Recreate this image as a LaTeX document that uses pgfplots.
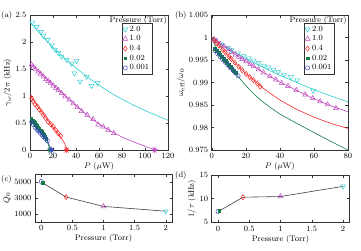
\documentclass[border=0pt]{standalone}
\usepackage{pgfplots}
\pgfplotsset{compat=1.18}
\usetikzlibrary{plotmarks}
\definecolor{cy}{RGB}{45,205,205}
\definecolor{mg}{RGB}{190,70,190}
\definecolor{rd}{RGB}{245,40,40}
\definecolor{gr}{RGB}{20,125,70}
\definecolor{bl}{RGB}{60,70,190}
\pgfplotsset{
  base/.style={scale only axis, anchor=north west, clip=false,
    tick align=inside, major tick length=2.5pt,
    axis line style={black!80, line width=0.5pt},
    every tick/.style={black!80, line width=0.4pt},
    font=\fontsize{8}{9.6}\selectfont,
    scaled ticks=false,
    xlabel style={yshift=3pt}, ylabel style={yshift=-3pt},
    legend cell align=left,
  },
  pcy/.style={only marks, mark=triangle, mark size=2.8pt, mark options={rotate=180, cy, line width=0.5pt, fill=none}},
  pmg/.style={only marks, mark=triangle, mark size=2.8pt, mark options={mg, line width=0.5pt, fill=none}},
  prd/.style={only marks, mark=diamond, mark size=2.6pt, mark options={rd, line width=0.5pt, fill=none}},
  pgr/.style={only marks, mark=square*, mark size=1.4pt, mark options={gr, fill=gr}},
  pbl/.style={only marks, mark=o, mark size=2.1pt, mark options={bl, line width=0.5pt}},
  pst/.style={only marks, mark=10-pointed star, mark size=3.2pt, mark options={#1, fill=white, line width=0.5pt}},
  ln/.style={no marks, #1, line width=0.6pt},
}
\begin{document}
\begin{tikzpicture}
\path[use as bounding box] (0pt,0pt) rectangle (361pt,-250pt);
% ---------------- (a)
\begin{axis}[base, at={(30pt,-15pt)}, width=138pt, height=135pt,
  xmin=0, xmax=120, ymin=0, ymax=2.5,
  xtick={0,20,40,60,80,100,120},
  ytick={0,0.5,1,1.5,2,2.5}, yticklabels={0,0.5,1,1.5,2,2.5},
  xlabel={$P$ ($\mu$W)}, ylabel={$\gamma_\omega/2\pi$ (kHz)},
  legend style={at={(rel axis cs:0.664,0.943)}, anchor=north west, draw=black!80,
    font=\fontsize{8}{8}\selectfont, inner sep=1pt, row sep=-1.2pt}]
\addplot[ln=cy, forget plot] coordinates {(0,2.37)(10,2.12)(20,1.90)(30,1.70)(40,1.52)(50,1.35)(60,1.20)(70,1.06)(80,0.94)(90,0.83)(100,0.73)(110,0.64)(120,0.55)};
\addplot[ln=mg, forget plot] coordinates {(0,1.60)(10,1.40)(20,1.20)(30,1.01)(40,0.82)(50,0.64)(60,0.48)(70,0.35)(80,0.24)(90,0.15)(100,0.07)(109,0.0)};
\addplot[ln=rd, forget plot] coordinates {(0,1.01)(5,0.86)(10,0.71)(15,0.565)(20,0.425)(25,0.29)(28,0.20)(30,0.13)(32,0.0)};
\addplot[ln=bl, forget plot] coordinates {(0,0.56)(4,0.44)(8,0.33)(12,0.235)(15,0.16)(18.8,0)};
\addplot[ln=gr, forget plot] coordinates {(0,0.60)(4,0.50)(8,0.39)(12,0.28)(15,0.17)(17.3,0)};
\addplot[pcy] coordinates {(2.0,2.36)(5.8,2.28)(9.6,2.19)(11.6,2.12)(15.4,2.04)(18.8,1.94)(21.7,1.86)(24.6,1.80)(27.5,1.73)(31.9,1.67)(36.2,1.60)(38.6,1.42)(40.6,1.65)(43.5,1.27)(49.3,1.36)(53.6,1.19)(58.8,1.24)};
\addlegendentry{2.0}
\addplot[pmg] coordinates {(1.4,1.58)(2.9,1.54)(4.9,1.49)(7.2,1.45)(9.3,1.41)(11.6,1.36)(13.9,1.31)(15.9,1.28)(17.9,1.24)(20.2,1.19)(22.6,1.15)(24.6,1.11)(27.5,1.05)(30.4,0.99)(34.1,0.93)(37.6,0.86)(41.1,0.79)(44.8,0.72)(49.7,0.65)(54.9,0.57)(59.3,0.47)(63.6,0.43)(68,0.37)(72.9,0.31)};
\addlegendentry{1.0}
\addplot[prd] coordinates {(1.4,0.96)(2.9,0.90)(4.3,0.85)(6.4,0.80)(8.1,0.75)(10.1,0.70)(11.6,0.65)(13.6,0.59)(15.9,0.52)(17.9,0.48)(20.2,0.43)(22.3,0.37)(24.5,0.31)(26.8,0.26)};
\addlegendentry{0.4}
\addplot[pgr] coordinates {(1,0.575)(2,0.55)(3,0.525)(4,0.50)(5,0.475)(6,0.45)(7,0.42)(8,0.39)(9,0.365)(10,0.335)(11,0.31)(12,0.28)(13,0.25)(14,0.215)};
\addlegendentry{0.02}
\addplot[pbl] coordinates {(1.5,0.52)(3,0.47)(4.5,0.42)(6,0.38)(7.5,0.35)(9,0.31)(10.5,0.28)(12,0.24)(13.5,0.21)(15,0.17)};
\addlegendentry{0.001}
\addplot[pst=mg, forget plot] coordinates {(108.4,0)};
\addplot[pst=rd, forget plot] coordinates {(31.8,0)};
\addplot[pst=gr, forget plot] coordinates {(17.3,0)};
\addplot[pst=bl, forget plot] coordinates {(18.8,0)};
\node[anchor=north east, inner sep=1pt, font=\fontsize{8}{9.6}\selectfont] at (rel axis cs:1,1) {Pressure (Torr)};
\end{axis}
% ---------------- (b)
\begin{axis}[base, at={(211.7pt,-15pt)}, width=136.3pt, height=135pt,
  xmin=0, xmax=80, ymin=0.975, ymax=1.005,
  xtick={0,20,40,60,80},
  ytick={0.975,0.98,0.985,0.99,0.995,1,1.005}, yticklabels={0.975,0.98,0.985,0.99,0.995,1,1.005},
  xlabel={$P$ ($\mu$W)}, ylabel={$\omega_{\mathrm{eff}}/\omega_0$},
  legend style={at={(rel axis cs:0.677,0.943)}, anchor=north west, draw=black!80,
    font=\fontsize{8}{8}\selectfont, inner sep=1pt, row sep=-1.2pt}]
\addplot[ln=cy, forget plot] coordinates {(0,1.0)(10,0.9975)(20,0.9953)(30,0.9934)(40,0.9916)(50,0.9900)(60,0.9884)(70,0.9870)(80,0.9857)};
\addplot[ln=mg, forget plot] coordinates {(0,1.0)(10,0.9972)(20,0.9947)(30,0.9923)(40,0.9901)(50,0.9882)(60,0.9864)(70,0.9848)(80,0.9835)};
\addplot[ln=rd, forget plot] coordinates {(0,1.0)(10,0.9958)(20,0.9920)(30,0.9888)(40,0.9861)(50,0.9840)(60,0.9823)(70,0.9809)(80,0.9798)};
\addplot[ln=gr, forget plot] coordinates {(0,1.0)(1,0.9990)(2,0.9982)(4,0.9970)(7,0.9955)(10,0.9940)(14,0.9920)(18,0.9902)(22,0.9885)(26,0.9870)(30,0.9857)(35,0.9843)(40,0.9830)(50,0.9809)(60,0.9789)(70,0.9769)(80,0.9750)};
\addplot[pcy] coordinates {(2.0,0.9994)(5.8,0.9985)(9.6,0.9977)(11.6,0.9972)(15.4,0.9965)(18.8,0.9959)(21.7,0.9954)(24.6,0.9949)(27.5,0.9944)(30.7,0.9938)(33.2,0.9934)(36.2,0.9929)(39,0.9924)(42.4,0.9918)(46.5,0.9912)(50.2,0.9905)(59.6,0.9882)};
\addlegendentry{2.0}
\addplot[pmg] coordinates {(1.4,0.9996)(2.9,0.9992)(4.9,0.9986)(7.2,0.9980)(9.3,0.9974)(11.6,0.9968)(13.9,0.9962)(15.9,0.9957)(17.9,0.9952)(20.2,0.9947)(22.6,0.9941)(24.6,0.9936)(27.5,0.9929)(30.4,0.9922)(34.1,0.9914)(37.6,0.9906)(41.1,0.9899)(44.8,0.9892)(49.7,0.9883)(54.9,0.9873)(59.3,0.9865)(63.6,0.9858)(68,0.9851)(72.9,0.9843)};
\addlegendentry{1.0}
\addplot[prd] coordinates {(1.4,0.9994)(2.9,0.9988)(4.3,0.9982)(6.4,0.9973)(8.1,0.9966)(10.1,0.9958)(11.6,0.9952)(13.6,0.9944)(15.9,0.9935)(17.9,0.9927)(20.2,0.9919)(22.3,0.9912)(24.5,0.9905)(26.8,0.9898)(28.5,0.9891)};
\addlegendentry{0.4}
\addplot[pgr] coordinates {(1.9,0.9976)(3,0.9971)(4,0.9967)(5,0.9962)(6,0.9958)(7,0.9953)(8,0.9949)(9,0.9944)(10,0.9940)(11,0.9935)(12,0.9931)(13,0.9926)(14,0.9922)};
\addlegendentry{0.02}
\addplot[pbl] coordinates {(2,0.9971)(3.5,0.9964)(5,0.9957)(6.5,0.9951)(8,0.9945)(9.5,0.9939)(11,0.9933)(12.5,0.9927)(14,0.9921)(15.5,0.9915)};
\addlegendentry{0.001}
\node[anchor=north east, inner sep=1pt, font=\fontsize{8}{9.6}\selectfont] at (rel axis cs:1,1) {Pressure (Torr)};
\end{axis}
% ---------------- (c)
\begin{axis}[base, at={(35pt,-174pt)}, width=137pt, height=48pt,
  xmin=-0.1, xmax=2.1, ymin=0, ymax=6000,
  xtick={0,0.5,1,1.5,2}, xticklabels={0,0.5,1,1.5,2},
  ytick={1000,3000,5000}, yticklabels={1000,3000,5000},
  xlabel={Pressure (Torr)}, ylabel={$Q_0$}]
\addplot[ln=black!75] coordinates {(0.001,5080)(0.02,4900)(0.4,3120)(1.0,1950)(2.0,1350)};
\addplot[pbl] coordinates {(0.001,5080)};
\addplot[pgr] coordinates {(0.02,4900)};
\addplot[prd] coordinates {(0.4,3120)};
\addplot[pmg] coordinates {(1.0,1950)};
\addplot[pcy] coordinates {(2.0,1350)};
\end{axis}
% ---------------- (d)
\begin{axis}[base, at={(211.7pt,-175pt)}, width=137.6pt, height=47.3pt,
  xmin=-0.1, xmax=2.1, ymin=5, ymax=15,
  xtick={0,0.5,1,1.5,2}, xticklabels={0,0.5,1,1.5,2},
  ytick={5,10,15},
  xlabel={Pressure (Torr)}, ylabel={$1/\tau$ (kHz)}]
\addplot[ln=black!75] coordinates {(0.001,7.3)(0.02,7.4)(0.4,10.3)(1.0,10.45)(2.0,12.6)};
\addplot[pbl] coordinates {(0.001,7.3)};
\addplot[pgr] coordinates {(0.02,7.4)};
\addplot[prd] coordinates {(0.4,10.3)};
\addplot[pmg] coordinates {(1.0,10.45)};
\addplot[pcy] coordinates {(2.0,12.6)};
\end{axis}
\node[anchor=west, inner sep=0pt, font=\fontsize{8}{9.6}\selectfont] at (1pt,-15pt) {(a)};
\node[anchor=west, inner sep=0pt, font=\fontsize{8}{9.6}\selectfont] at (175pt,-15pt) {(b)};
\node[anchor=west, inner sep=0pt, font=\fontsize{8}{9.6}\selectfont] at (1pt,-179pt) {(c)};
\node[anchor=west, inner sep=0pt, font=\fontsize{8}{9.6}\selectfont] at (175pt,-175pt) {(d)};
\end{tikzpicture}
\end{document}
